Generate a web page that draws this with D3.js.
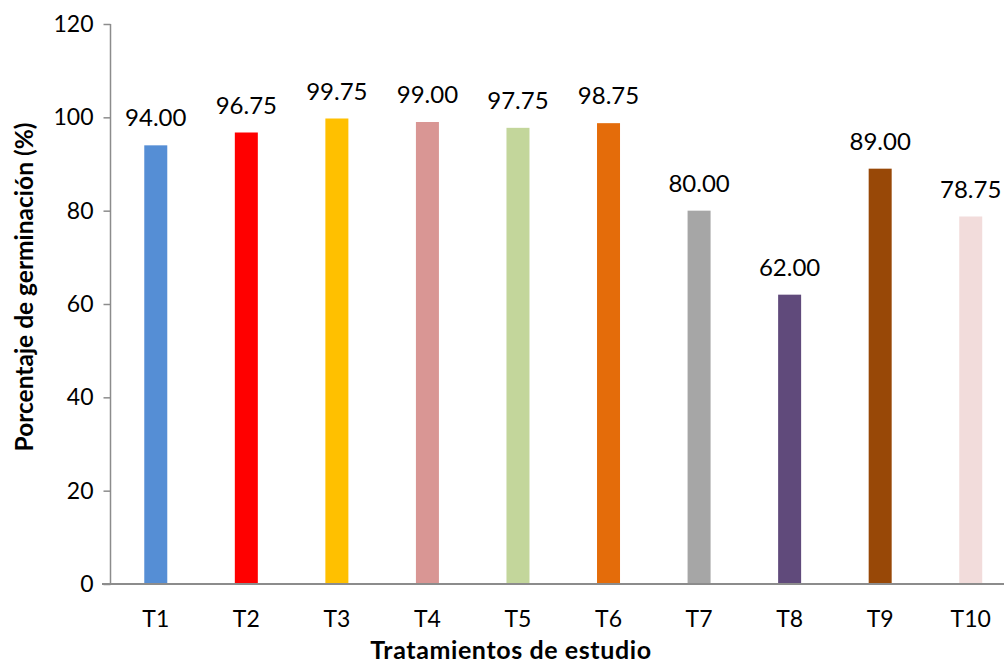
<!DOCTYPE html>
<html><head><meta charset="utf-8">
<script src="https://cdn.jsdelivr.net/npm/d3@7"></script>
<style>body{margin:0;background:#fff}svg{display:block}</style>
</head><body>
<script>
const categories = ["T1","T2","T3","T4","T5","T6","T7","T8","T9","T10"];
const values = [94.00, 96.75, 99.75, 99.00, 97.75, 98.75, 80.00, 62.00, 89.00, 78.75];
const colors = ["#558ED5","#FF0000","#FFC000","#D99694","#C3D69B","#E46C0A","#A6A6A6","#604A7B","#984807","#F2DCDB"];
const yTicks = [0,20,40,60,80,100,120];

const W=1004,H=666;
const font = "Lato, 'Open Sans', sans-serif";
const svg=d3.select("body").append("svg").attr("width",W).attr("height",H);
const x=d3.scaleBand().domain(categories).range([110.5,1016]).paddingInner(0.746).paddingOuter(0.373);
const y=d3.scaleLinear().domain([0,120]).range([584,24]);
const axisColor="#8c8c8c";

// bars
svg.selectAll("rect.bar").data(values).join("rect")
  .attr("x",(d,i)=>x(categories[i])).attr("width",x.bandwidth())
  .attr("y",d=>y(d)).attr("height",d=>y(0)-y(d)).attr("fill",(d,i)=>colors[i]);

// y axis
const ya=svg.append("g").attr("transform","translate(110.5,0)")
  .call(d3.axisLeft(y).tickValues(yTicks).tickSize(7).tickPadding(10).tickFormat(d3.format("d")));
ya.select(".domain").attr("stroke",axisColor).attr("stroke-width",1.5).attr("d","M0,24V584");
ya.selectAll(".tick line").attr("stroke",axisColor).attr("stroke-width",1.5);
ya.selectAll("text").attr("font-family",font).attr("font-size",23).attr("fill","#000");

// x axis
svg.append("line").attr("x1",102).attr("x2",1004).attr("y1",584).attr("y2",584)
  .attr("stroke",axisColor).attr("stroke-width",2);
svg.selectAll("text.xl").data(categories).join("text")
  .attr("x",d=>x(d)+x.bandwidth()/2).attr("y",627).attr("text-anchor","middle")
  .attr("font-family",font).attr("font-size",23).text(d=>d);

// value labels
svg.selectAll("text.vl").data(values).join("text")
  .attr("x",(d,i)=>x(categories[i])+x.bandwidth()/2).attr("y",d=>y(d)-19).attr("text-anchor","middle")
  .attr("font-family",font).attr("font-size",24).text(d=>d3.format(".2f")(d));

// titles
svg.append("text").attr("x",511).attr("y",659).attr("text-anchor","middle")
  .attr("font-family",font).attr("font-weight","bold").attr("font-size",25).attr("letter-spacing",0.6)
  .text("Tratamientos de estudio");
svg.append("text").attr("transform","translate(33,287) rotate(-90)").attr("text-anchor","middle")
  .attr("font-family",font).attr("font-weight","bold").attr("font-size",24.5)
  .text("Porcentaje de germinación (%)");
</script>
</body></html>
